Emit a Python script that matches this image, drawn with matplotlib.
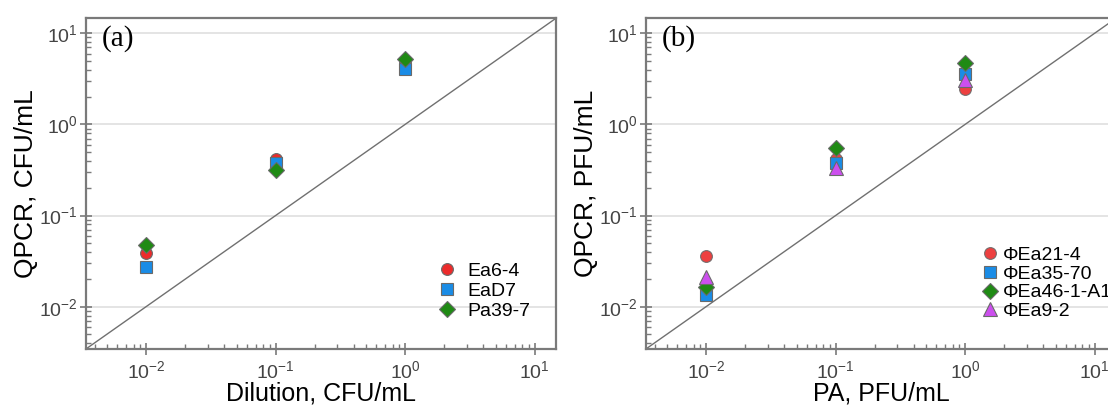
import matplotlib
matplotlib.use('Agg')
import matplotlib.pyplot as plt
import matplotlib.ticker as mticker
import numpy as np

plt.rcParams['font.family'] = ['Liberation Sans', 'DejaVu Sans']
plt.rcParams['mathtext.default'] = 'regular'

# panel (a): bacteria, CFU/mL
dilution = [0.01, 0.1, 1.0]
ea6_4 = [0.039, 0.415, 5.0]
ead7 = [0.0274, 0.376, 4.08]
pa39_7 = [0.048, 0.316, 5.25]

# panel (b): phages, PFU/mL
pa = [0.01, 0.1, 1.0]
phi_ea21_4 = [0.036, 0.42, 2.46]
phi_ea35_70 = [0.0134, 0.376, 3.54]
phi_ea46_1_a1 = [0.0163, 0.548, 4.71]
phi_ea9_2 = [0.021, 0.331, 3.04]

RED = '#ec2b2b'
BLUE = '#1a8ce6'
GREEN = '#1f8a14'
PURPLE = '#cc4fee'
EDGE = '#6a6a6a'

LIM = (10 ** -2.464, 10 ** 1.165)


def style_axes(ax, xlabel, ylabel, tag):
    ax.set_xscale('log')
    ax.set_yscale('log')
    ax.set_xlim(LIM)
    ax.set_ylim(LIM)
    ax.plot(LIM, LIM, color='#707070', lw=1.0, zorder=1)
    ax.xaxis.set_major_locator(mticker.LogLocator(base=10, numticks=10))
    ax.yaxis.set_major_locator(mticker.LogLocator(base=10, numticks=10))
    ax.xaxis.set_minor_locator(mticker.LogLocator(base=10, subs=np.arange(2, 10), numticks=10))
    ax.yaxis.set_minor_locator(mticker.LogLocator(base=10, subs=np.arange(2, 10), numticks=10))
    ax.yaxis.set_minor_formatter(mticker.NullFormatter())
    ax.xaxis.set_minor_formatter(mticker.NullFormatter())
    ax.yaxis.grid(True, which='major', color='#e2e2e2', lw=1.3, zorder=0)
    ax.set_axisbelow(True)
    for s in ax.spines.values():
        s.set_color('#7a7a7a')
        s.set_linewidth(1.6)
    ax.tick_params(which='major', direction='inout', length=8, width=1.2,
                   color='#7a7a7a', labelsize=14, labelcolor='#444444', pad=2)
    ax.tick_params(axis='x', which='major', pad=4)
    ax.tick_params(which='minor', direction='in', length=3.5, width=1.0, color='#7a7a7a')
    ax.set_xlabel(xlabel, fontsize=18, labelpad=0)
    ax.set_ylabel(ylabel, fontsize=19, labelpad=1)
    ax.text(0.034, 0.98, tag, transform=ax.transAxes, fontsize=21,
            family='Liberation Serif', va='top', ha='left')


fig = plt.figure(figsize=(11.08, 4.12), dpi=100)
ax1 = fig.add_axes([0.0776, 0.153, 0.4242, 0.8027])
ax2 = fig.add_axes([0.583, 0.153, 0.4242, 0.8027])

mk = dict(linestyle='none', markeredgecolor=EDGE, markeredgewidth=0.8, zorder=3)

ax1.plot(dilution, ea6_4, marker='o', ms=8.5, color=RED, label='Ea6-4', **mk)
ax1.plot(dilution, ead7, marker='s', ms=8, color=BLUE, label='EaD7', **mk)
ax1.plot(dilution, pa39_7, marker='D', ms=8, color=GREEN, label='Pa39-7', **mk)
style_axes(ax1, 'Dilution, CFU/mL', 'QPCR, CFU/mL', '(a)')
ax1.legend(loc='center left', bbox_to_anchor=(0.714, 0.175), frameon=False,
           fontsize=14, handletextpad=0.48, labelspacing=0.11,
           handlelength=1.2, borderpad=0.2)

ax2.plot(pa, phi_ea21_4, marker='o', ms=8.5, color=RED, alpha=0.9, label='\u03a6Ea21-4', **mk)
ax2.plot(pa, phi_ea35_70, marker='s', ms=8, color=BLUE, label='\u03a6Ea35-70', **mk)
ax2.plot(pa, phi_ea46_1_a1, marker='D', ms=8, color=GREEN, label='\u03a6Ea46-1-A1', **mk)
ax2.plot(pa, phi_ea9_2, marker='^', ms=10.5, color=PURPLE, label='\u03a6Ea9-2', **mk)
style_axes(ax2, 'PA, PFU/mL', 'QPCR, PFU/mL', '(b)')
ax2.legend(loc='center left', bbox_to_anchor=(0.682, 0.199), frameon=False,
           fontsize=14, handletextpad=0.17, labelspacing=0.06,
           handlelength=1.0, borderpad=0.2)

fig.savefig('out.png', dpi=100)
